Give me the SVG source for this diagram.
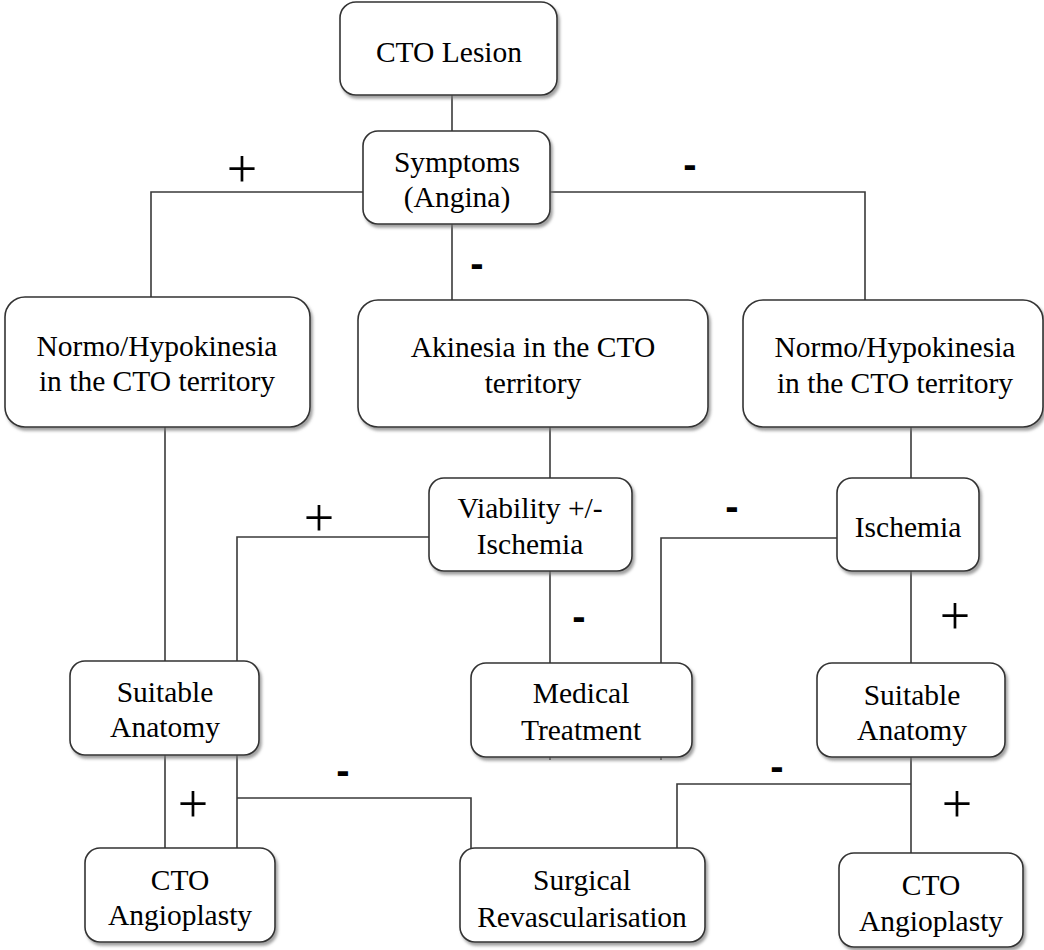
<svg xmlns="http://www.w3.org/2000/svg" width="1044" height="950" viewBox="0 0 1044 950">
<defs>
<filter id="sh" x="-10%" y="-10%" width="125%" height="130%">
<feDropShadow dx="2" dy="3" stdDeviation="1.5" flood-color="#777" flood-opacity="0.7"/>
</filter>
<style>
.box{fill:#fff;stroke:#333;stroke-width:1.6;filter:url(#sh)}
.t{font-family:"Liberation Serif","Times New Roman",serif;font-size:29.5px;fill:#000;text-anchor:middle}
.c{fill:none;stroke:#3a3a3a;stroke-width:1.6}
.p{font-family:"Liberation Serif","Times New Roman",serif;font-size:54px;fill:#000;text-anchor:middle}
.m{font-family:"Liberation Sans",Arial,sans-serif;font-size:40px;font-weight:bold;fill:#000;text-anchor:middle}
</style>
</defs>
<rect width="1044" height="950" fill="#fff"/>
<g id="connectors">
<path class="c" d="M452 95V131"/>
<path class="c" d="M363 192H151V297"/>
<path class="c" d="M550 192H865V300"/>
<path class="c" d="M452 224V300"/>
<path class="c" d="M165 427V661"/>
<path class="c" d="M550 427V478"/>
<path class="c" d="M911 427V478"/>
<path class="c" d="M429 537H237V848"/>
<path class="c" d="M550 571V760"/>
<path class="c" d="M837 538H661V760"/>
<path class="c" d="M911 571V853"/>
<path class="c" d="M165 755V848"/>
<path class="c" d="M237 798H471V848"/>
<path class="c" d="M911 784H677V848"/>
<text class="p" x="242" y="187">+</text>
<text class="m" x="690" y="178">-</text>
<text class="m" x="477" y="277">-</text>
<text class="p" x="319" y="536">+</text>
<text class="m" x="732" y="520">-</text>
<text class="m" x="579" y="630">-</text>
<text class="p" x="955" y="634">+</text>
<text class="p" x="193" y="822">+</text>
<text class="m" x="343" y="784">-</text>
<text class="m" x="777" y="780">-</text>
<text class="p" x="957" y="822">+</text>
</g>
<g id="n_cto_lesion">
<rect class="box" x="340" y="2" width="217" height="93" rx="16"/>
<text class="t" x="449" y="62">CTO Lesion</text>
</g>
<g id="n_symptoms">
<rect class="box" x="363" y="131" width="187" height="93" rx="15"/>
<text class="t" x="457" y="172">Symptoms</text>
<text class="t" x="457" y="207">(Angina)</text>
</g>
<g id="n_normo_left">
<rect class="box" x="5" y="297" width="305" height="130" rx="20"/>
<text class="t" x="157" y="356">Normo/Hypokinesia</text>
<text class="t" x="157" y="391">in the CTO territory</text>
</g>
<g id="n_akinesia">
<rect class="box" x="358" y="300" width="350" height="127" rx="20"/>
<text class="t" x="533" y="357">Akinesia in the CTO</text>
<text class="t" x="533" y="393">territory</text>
</g>
<g id="n_normo_right">
<rect class="box" x="743" y="300" width="300" height="127" rx="20"/>
<text class="t" x="895" y="357">Normo/Hypokinesia</text>
<text class="t" x="895" y="393">in the CTO territory</text>
</g>
<g id="n_viability">
<rect class="box" x="429" y="478" width="203" height="93" rx="15"/>
<text class="t" x="530" y="518">Viability +/-</text>
<text class="t" x="530" y="554">Ischemia</text>
</g>
<g id="n_ischemia">
<rect class="box" x="837" y="478" width="142" height="93" rx="15"/>
<text class="t" x="908" y="537">Ischemia</text>
</g>
<g id="n_suitable_left">
<rect class="box" x="70" y="661" width="189" height="94" rx="15"/>
<text class="t" x="165" y="702">Suitable</text>
<text class="t" x="165" y="737">Anatomy</text>
</g>
<g id="n_medical">
<rect class="box" x="471" y="663" width="221" height="94" rx="15"/>
<text class="t" x="581" y="703">Medical</text>
<text class="t" x="581" y="740">Treatment</text>
</g>
<g id="n_suitable_right">
<rect class="box" x="817" y="663" width="188" height="94" rx="15"/>
<text class="t" x="912" y="705">Suitable</text>
<text class="t" x="912" y="740">Anatomy</text>
</g>
<g id="n_cto_angio_left">
<rect class="box" x="85" y="848" width="190" height="94" rx="15"/>
<text class="t" x="180" y="890">CTO</text>
<text class="t" x="180" y="925">Angioplasty</text>
</g>
<g id="n_surgical">
<rect class="box" x="460" y="848" width="245" height="94" rx="15"/>
<text class="t" x="582" y="890">Surgical</text>
<text class="t" x="582" y="927">Revascularisation</text>
</g>
<g id="n_cto_angio_right">
<rect class="box" x="839" y="853" width="184" height="94" rx="15"/>
<text class="t" x="931" y="895">CTO</text>
<text class="t" x="931" y="931">Angioplasty</text>
</g>
</svg>
